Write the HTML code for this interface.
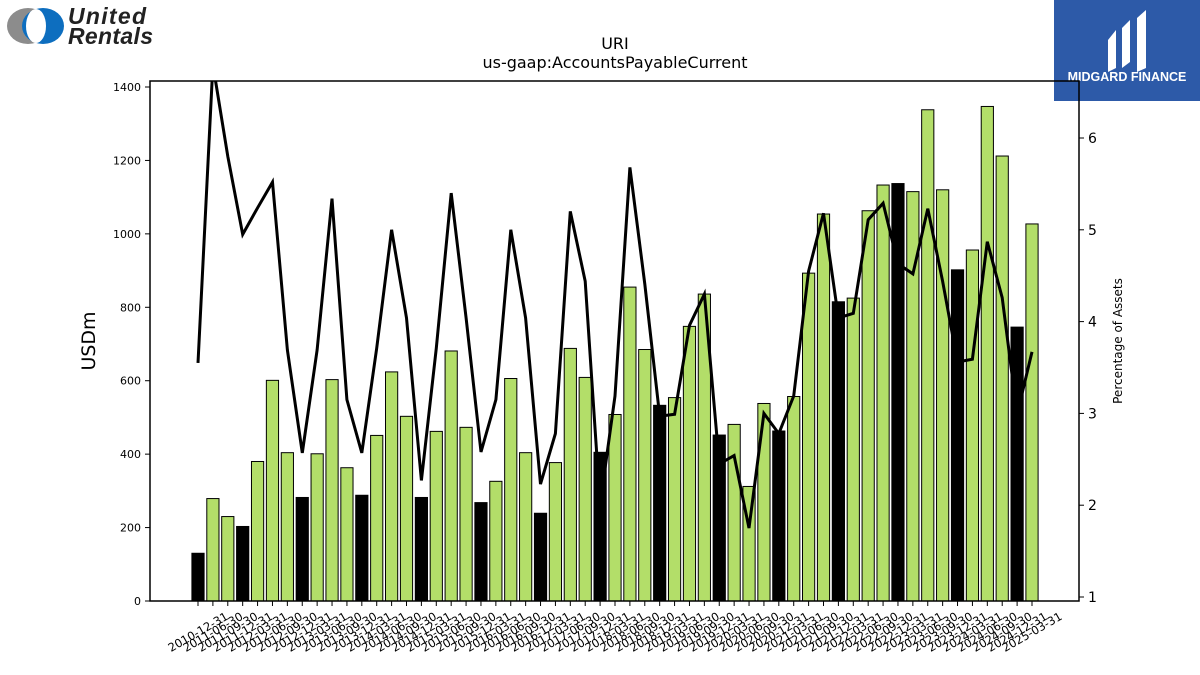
<!DOCTYPE html>
<html><head><meta charset="utf-8"><style>
body{margin:0;background:#fff;}
svg{display:block;font-family:"DejaVu Sans","Liberation Sans",sans-serif;}
</style></head><body>
<svg id="chart" width="1200" height="675" viewBox="0 0 1200 675" xmlns="http://www.w3.org/2000/svg">
<rect width="1200" height="675" fill="#fff"/>
<g>
<ellipse cx="28" cy="26" rx="21" ry="18" fill="#8c8c8c"/>
<ellipse cx="43" cy="26" rx="21" ry="18" fill="#0d6ebf"/>
<ellipse cx="36" cy="26" rx="10" ry="17" fill="#fff"/>
<text x="68" y="24" font-family="Liberation Sans, sans-serif" font-weight="bold" font-style="italic" font-size="23" fill="#222" textLength="78">United</text>
<text x="68" y="44" font-family="Liberation Sans, sans-serif" font-weight="bold" font-style="italic" font-size="23" fill="#222" textLength="85">Rentals</text>
</g>
<g>
<rect x="1054" y="0" width="146" height="101" fill="#2d5aa8"/>
<path d="M1108 40 L1116 30 L1116 68 L1108 72 Z M1122 28 L1130 20 L1130 62 L1122 68 Z M1137 18 L1146 10 L1146 68 L1137 72 Z" fill="#fff"/>
<text x="1127" y="81" text-anchor="middle" font-family="Liberation Sans, sans-serif" font-weight="bold" font-size="12.5" fill="#fff">MIDGARD FINANCE</text>
</g>
<text x="615" y="49" text-anchor="middle" font-size="16">URI</text>
<text x="615" y="68" text-anchor="middle" font-size="16">us-gaap:AccountsPayableCurrent</text>
<g id="plot"></g>
</svg>
<script>
const dates=["2010-12-31","2011-06-30","2011-09-30","2011-12-31"];
for(let y=2012;y<=2024;y++){for(const q of ["03-31","06-30","09-30","12-31"])dates.push(y+"-"+q);}
dates.push("2025-03-31");
const payables=[130,279,230,203,380,601,404,282,401,603,363,288,451,624,503,282,462,681,473,268,326,606,404,239,377,688,609,405,508,855,685,533,554,748,836,452,481,312,538,463,557,893,1054,815,825,1063,1133,1137,1115,1338,1120,902,956,1347,1212,746,1027];
const pctAssets=[3.55,6.8,5.80,4.95,5.24,5.52,3.69,2.57,3.69,5.34,3.15,2.57,3.71,5.00,4.04,2.27,3.71,5.40,4.04,2.58,3.15,5.00,4.04,2.23,2.78,5.20,4.44,2.01,3.19,5.68,4.41,2.97,2.99,3.96,4.30,2.45,2.54,1.75,3.00,2.78,3.19,4.55,5.18,4.04,4.09,5.11,5.29,4.63,4.52,5.23,4.44,3.56,3.59,4.87,4.26,2.99,3.67];
const leftTicks=[0,200,400,600,800,1000,1200,1400];
const rightTicks=[1,2,3,4,5,6];

const NS="http://www.w3.org/2000/svg";
const g=document.getElementById('plot');
const L=150,R=1079,T=81,B=601;
const xs=i=>198+i*(1032-198)/(dates.length-1);
const yL=v=>601-v*(514/1400);
const yR=v=>597-(v-1)*(459/5);
function el(t,a,p){const e=document.createElementNS(NS,t);for(const k in a)e.setAttribute(k,a[k]);(p||g).appendChild(e);return e;}
const clip=el('clipPath',{id:'pc'});el('rect',{x:L,y:T,width:R-L,height:B-T},clip);
const bw=12.2;
payables.forEach((v,i)=>{
 const black=dates[i].endsWith("12-31");
 const r=el('rect',{x:xs(i)-bw/2,y:yL(v),width:bw,height:yL(0)-yL(v),fill:black?'#000':'#b3de69',stroke:'#000','stroke-width':1});
 
 
});
const pts=pctAssets.map((v,i)=>xs(i).toFixed(1)+','+yR(v).toFixed(1)).join(' ');
const ln=el('polyline',{points:pts,fill:'none',stroke:'#000','stroke-width':3,'stroke-linejoin':'miter','clip-path':'url(#pc)'});


const fr=el('rect',{x:L,y:T,width:R-L,height:B-T,fill:'none',stroke:'#000','stroke-width':1.5});


leftTicks.forEach(v=>{
 el('line',{x1:L-5,x2:L,y1:yL(v),y2:yL(v),stroke:'#000'});
 const t=el('text',{x:L-9,y:yL(v)+4,'text-anchor':'end','font-size':11});t.textContent=v;
 
 
});
rightTicks.forEach(v=>{
 el('line',{x1:R,x2:R+5,y1:yR(v),y2:yR(v),stroke:'#000'});
 const t=el('text',{x:R+9,y:yR(v)+5,'font-size':14});t.textContent=v;
 
 
});
dates.forEach((d,i)=>{
 el('line',{x1:xs(i),x2:xs(i),y1:B,y2:B+5,stroke:'#000'});
 const t=el('text',{transform:`translate(${xs(i)},${B+31}) rotate(-30)`,'text-anchor':'middle','dominant-baseline':'central','font-size':11.5});t.textContent=d;
 
 
});
const yt=el('text',{transform:'translate(95,341) rotate(-90)','text-anchor':'middle','font-size':19});yt.textContent='USDm';


const rt=el('text',{transform:'translate(1122,341) rotate(-90)','text-anchor':'middle','font-size':12});rt.textContent='Percentage of Assets';


</script>
</body></html>
